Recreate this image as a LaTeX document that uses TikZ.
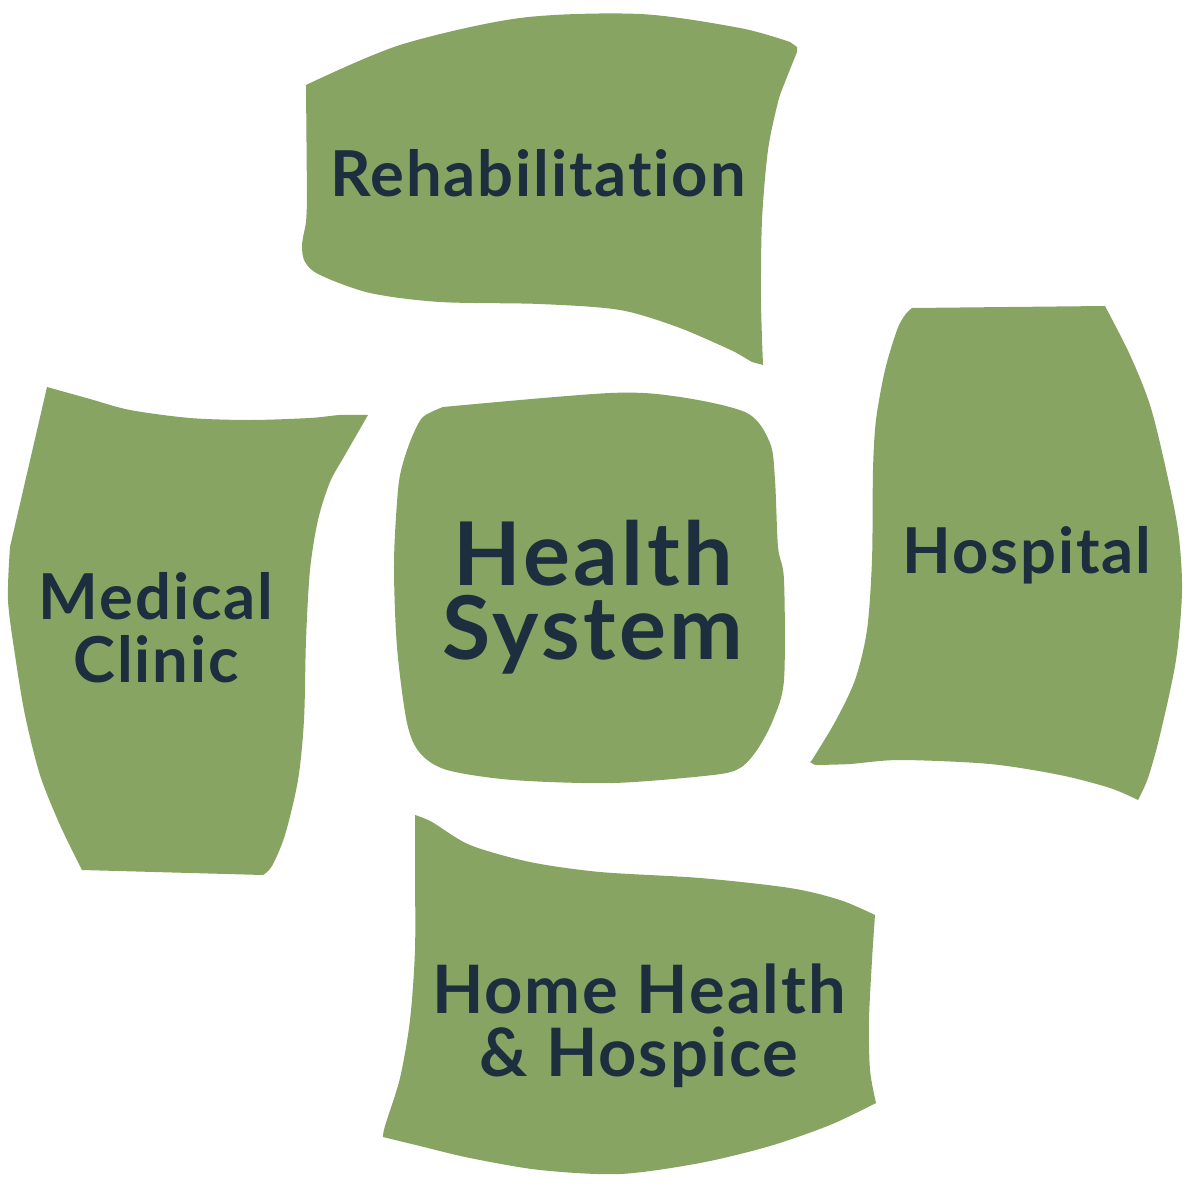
\documentclass[tikz,border=0pt]{standalone}
\usepackage{fontspec}
\setmainfont{Lato}[Ligatures={NoCommon,NoDiscretionary}]
\usetikzlibrary{positioning}
\definecolor{leafgreen}{HTML}{87A463}
\definecolor{inknavy}{HTML}{1D2E3F}

\begin{document}
\begin{tikzpicture}[x=0.01cm,y=-0.01cm,
 blob/.style={fill=leafgreen},
 lbl/.style={text=inknavy,font=\bfseries\fontsize{18}{18}\selectfont\addfontfeature{LetterSpace=3},align=center,inner sep=0pt},
 biglbl/.style={lbl,font=\bfseries\fontsize{25}{21}\selectfont\addfontfeature{LetterSpace=4}}]
 \useasboundingbox (0,0) rectangle (1191,1191);
 % rehabilitation
 \fill[blob] plot[smooth] coordinates {(306,85) (400,45) (520,18) (640,14) (740,28) (790,42)}
 -- (797,47)
 -- plot[smooth] coordinates {(797,52) (785,82) (778,102) (768,150) (762,220) (761,300) (763,365)}
 -- (752,362) -- (735,352)
 -- plot[smooth] coordinates {(735,352) (680,328) (620,310) (540,304) (440,302) (370,293) (320,275) (305,262) (302,245) (306,222) (307,200)}
 -- cycle;
 % health system
 \fill[blob] plot[smooth] coordinates {(443,407) (610,393) (680,397) (747,413) (770,443) (775,480) (778,547)
 (784,580) (784,680) (773,720) (757,750) (740,768) (713,775) (613,783) (513,780) (447,770) (420,753)
 (407,723) (397,647) (394,563) (398,490) (403,463) (412,437) (423,417) (443,407)} -- cycle;
 % hospital
 \fill[blob] (912,308) -- (1105,306)
 -- plot[smooth] coordinates {(1105,306) (1130,355) (1150,405) (1165,465) (1178,530) (1182,590) (1176,660) (1160,735) (1148,778) (1138,800)}
 -- plot[smooth] coordinates {(1138,800) (1110,788) (1060,775) (990,764) (900,760) (850,764) (815,765)}
 -- (810,762)
 -- plot[smooth] coordinates {(812,760) (835,722) (855,680) (867,630) (872,560) (873,470) (876,420) (885,370) (897,330) (905,315) (912,308)}
 -- cycle;
 % medical clinic
 \fill[blob] plot[smooth] coordinates {(47,387) (90,399) (130,410) (190,418) (250,420) (310,418) (340,415) (368,415)}
 -- plot[smooth] coordinates {(368,415) (345,455) (330,482) (318,520) (310,570) (306,640) (304,720) (298,780) (285,835) (272,866) (263,875)}
 -- (82,870)
 -- plot[smooth] coordinates {(82,870) (60,825) (40,775) (25,715) (15,655) (8,600) (10,547)}
 -- cycle;
 % home health
 \fill[blob] plot[smooth] coordinates {(415,815) (432,822) (470,845) (530,862) (600,872) (700,878) (790,888) (840,900) (875,915)}
 -- plot[smooth] coordinates {(875,915) (872,960) (869,1020) (870,1070) (876,1103)}
 -- plot[smooth] coordinates {(876,1103) (830,1125) (770,1146) (700,1163) (620,1174) (540,1170) (470,1158) (420,1146) (383,1137)}
 -- plot[smooth] coordinates {(383,1137) (385,1126) (400,1078) (410,1020) (415,950) (415,870) (415,815)}
 -- cycle;
 % labels
 \node[lbl] (rehab) at (538,173) {Rehabilitation};
 \node[biglbl] (hsys) at (593,597) {Health\\System};
 \node[lbl] (clinic) at (156,628) {Medical\\Clinic};
 \node[lbl] (hosp) at (1027,555) {Hospital};
 \node[lbl,font=\bfseries\fontsize{19}{18}\selectfont\addfontfeature{LetterSpace=3}] (home) at (639,1026) {Home Health\\\& Hospice};
\end{tikzpicture}
\end{document}
